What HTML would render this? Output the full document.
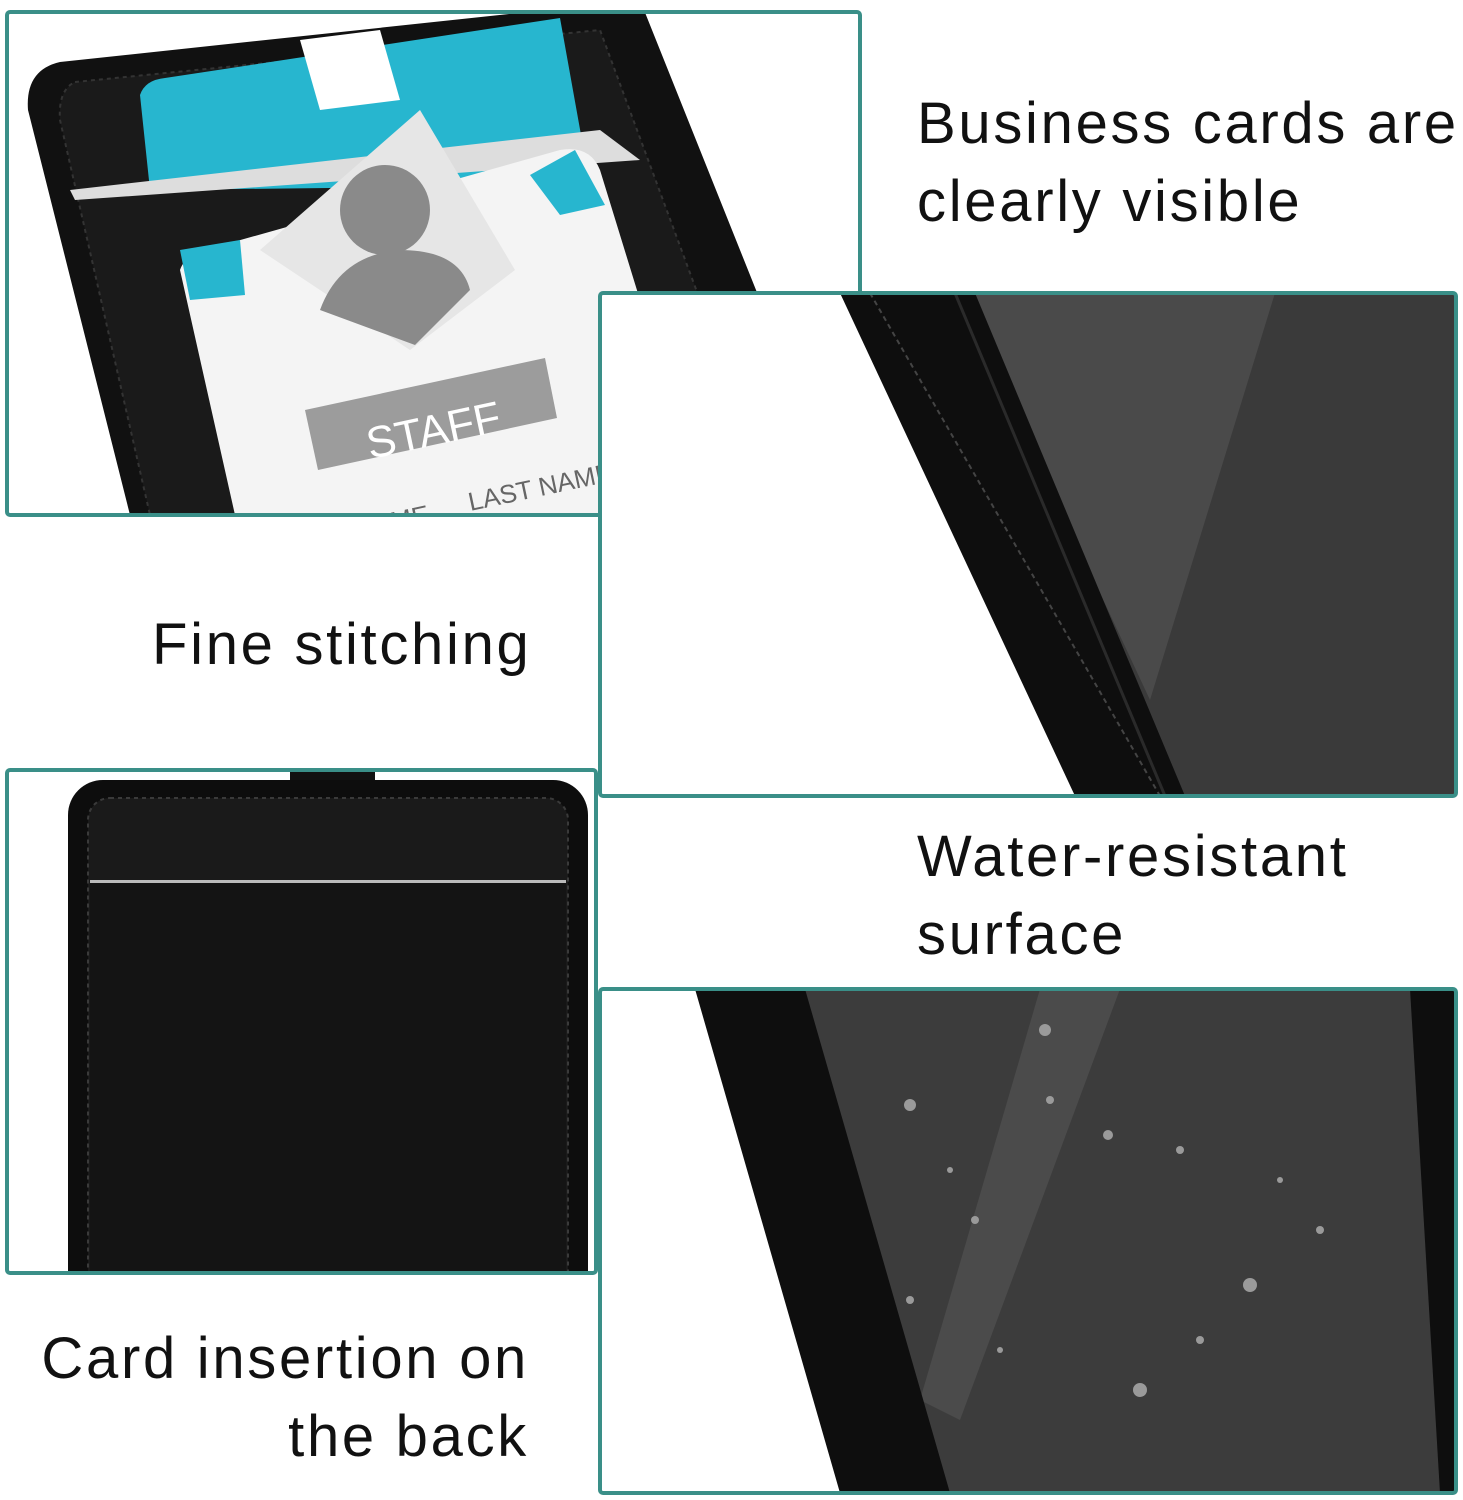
<!DOCTYPE html>
<html><head><meta charset="utf-8"><style>
html,body{margin:0;padding:0;background:#fff;}
body{width:1463px;height:1500px;position:relative;overflow:hidden;font-family:"Liberation Sans","DejaVu Sans",sans-serif;}
.t{position:absolute;font-size:58px;line-height:78px;color:#111;letter-spacing:2.7px;white-space:nowrap;}
</style></head><body>
<svg width="1463" height="1500" style="position:absolute;left:0;top:0">
<defs>
<clipPath id="c1"><rect x="7" y="12" width="853" height="503"/></clipPath>
<clipPath id="c2"><rect x="600" y="293" width="856" height="503"/></clipPath>
<clipPath id="c3"><rect x="7" y="770" width="589" height="503"/></clipPath>
<clipPath id="c4"><rect x="600" y="989" width="856" height="504"/></clipPath>
</defs>
<g clip-path="url(#c1)">
<rect x="7" y="12" width="853" height="503" fill="#fff"/>
<path d="M60,62 L640,0 L760,300 L860,515 L130,515 L28,110 Q25,70 60,62Z" fill="#111"/>
<path d="M75,82 L600,30 L700,300 L800,515 L150,515 L60,120 Q58,90 75,82Z" fill="#1a1a1a" stroke="#333" stroke-width="2" stroke-dasharray="4,4"/>
<path d="M140,95 Q145,80 165,78 L560,18 L590,185 L150,190Z" fill="#27b6cf"/>
<path d="M300,40 L380,30 L400,100 L320,110Z" fill="#fff"/>
<path d="M70,190 L600,130 L640,160 L75,200Z" fill="#ddd"/>
<path d="M180,270 Q185,255 205,250 L560,150 Q590,145 600,170 L640,300 L700,515 L235,515Z" fill="#f4f4f4"/>
<path d="M180,250 L240,240 L245,295 L190,300Z" fill="#27b6cf"/>
<path d="M530,175 L575,150 L605,205 L560,215Z" fill="#27b6cf"/>
<path d="M260,250 L420,110 L515,270 L410,350Z" fill="#e6e6e6"/>
<circle cx="385" cy="210" r="45" fill="#8a8a8a"/>
<path d="M320,310 Q340,255 400,250 Q460,250 470,290 L415,345Z" fill="#8a8a8a"/>
<path d="M305,410 L545,358 L557,418 L318,470Z" fill="#9c9c9c"/>
<text x="365" y="448" font-size="44" fill="#fff" transform="rotate(-12 420 430)" font-family="Liberation Sans">STAFF</text>
<text x="465" y="500" font-size="26" fill="#666" transform="rotate(-12 520 480)">LAST NAME</text>
<text x="330" y="535" font-size="26" fill="#666" transform="rotate(-12 370 515)">T NAME</text>
</g>
<rect x="7" y="12" width="853" height="503" fill="none" stroke="#3a8f88" stroke-width="4" rx="3"/>
<g clip-path="url(#c2)">
<rect x="600" y="293" width="856" height="503" fill="#3a3a3a"/>
<path d="M960,293 L1275,293 L1150,700Z" fill="#4a4a4a"/>
<path d="M830,293 L975,293 L1185,796 L1070,796Z" fill="#0e0e0e"/>
<path d="M870,293 L1160,796" stroke="#444" stroke-width="2" stroke-dasharray="5,4"/>
<path d="M955,293 L1165,796" stroke="#2a2a2a" stroke-width="3"/>
<path d="M600,293 L840,293 L1075,796 L600,796Z" fill="#fff"/>
</g>
<rect x="600" y="293" width="856" height="503" fill="none" stroke="#3a8f88" stroke-width="4" rx="3"/>
<g clip-path="url(#c3)">
<rect x="7" y="770" width="589" height="503" fill="#fff"/>
<rect x="290" y="768" width="85" height="20" fill="#111"/>
<rect x="68" y="780" width="520" height="540" rx="35" fill="#0d0d0d"/>
<rect x="88" y="798" width="480" height="520" rx="22" fill="#1a1a1a" stroke="#3a3a3a" stroke-width="2" stroke-dasharray="4,4"/>
<rect x="90" y="880" width="476" height="3" fill="#bbb"/>
<rect x="90" y="883" width="476" height="400" fill="#141414"/>
</g>
<rect x="7" y="770" width="589" height="503" fill="none" stroke="#3a8f88" stroke-width="4" rx="3"/>
<g clip-path="url(#c4)">
<rect x="600" y="989" width="856" height="504" fill="#3c3c3c"/>
<path d="M1040,989 L1120,989 L960,1420 L920,1400Z" fill="#4b4b4b"/>
<path d="M690,989 L805,989 L950,1493 L835,1493Z" fill="#0e0e0e"/>
<path d="M1410,989 L1456,989 L1456,1493 L1440,1493Z" fill="#0e0e0e"/>
<path d="M600,989 L695,989 L840,1493 L600,1493Z" fill="#fff"/>
<g fill="#9a9a9a">
<circle cx="910" cy="1105" r="6"/><circle cx="1045" cy="1030" r="6"/><circle cx="1108" cy="1135" r="5"/><circle cx="1250" cy="1285" r="7"/><circle cx="1140" cy="1390" r="7"/><circle cx="975" cy="1220" r="4"/><circle cx="1180" cy="1150" r="4"/><circle cx="1320" cy="1230" r="4"/><circle cx="1050" cy="1100" r="4"/><circle cx="910" cy="1300" r="4"/><circle cx="1000" cy="1350" r="3"/><circle cx="1200" cy="1340" r="4"/><circle cx="1280" cy="1180" r="3"/><circle cx="950" cy="1170" r="3"/>
</g>
</g>
<rect x="600" y="989" width="856" height="504" fill="none" stroke="#3a8f88" stroke-width="4" rx="3"/>
</svg>
<div class="t" style="left:917px;top:85px">Business cards are<br>clearly visible</div>
<div class="t" style="left:152px;top:606px">Fine stitching</div>
<div class="t" style="left:917px;top:818px">Water-resistant<br>surface</div>
<div class="t" style="right:934px;top:1320px;text-align:right">Card insertion on<br>the back</div>
</body></html>
